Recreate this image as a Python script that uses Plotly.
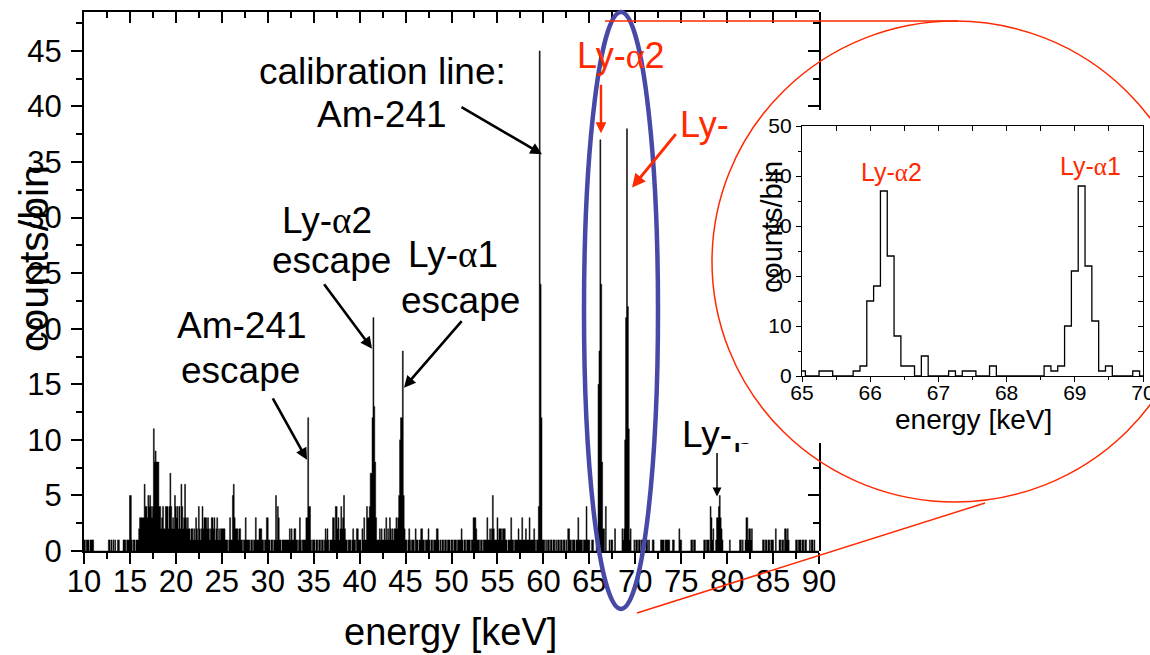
import numpy as np
import plotly.graph_objects as go

W, H = 1150, 655
FONT = "Liberation Sans, Arial, sans-serif"
RED = "#ff2a00"
BLUE = "#4848a6"

# ---------------- data: counts per 0.1 keV bin (bin centres 10.0 ... 89.9) ----------------
bin_start_kev = 10.0
bin_width_kev = 0.1
counts_rows = [
    [1, 1, 0, 1, 1, 1, 0, 1, 1, 1],   # 10
    [1, 0, 0, 0, 0, 0, 0, 0, 0, 0],   # 11
    [0, 0, 0, 0, 0, 0, 0, 1, 1, 0],   # 12
    [1, 0, 1, 0, 1, 0, 0, 1, 1, 0],   # 13
    [0, 0, 0, 1, 1, 1, 0, 1, 1, 1],   # 14
    [5, 5, 1, 0, 1, 1, 0, 1, 1, 1],   # 15
    [2, 3, 3, 3, 3, 3, 6, 4, 4, 3],   # 16
    [5, 4, 5, 4, 3, 4, 11, 8, 9, 8],  # 17
    [8, 8, 4, 4, 2, 3, 4, 2, 2, 4],   # 18
    [4, 4, 2, 4, 7, 4, 2, 3, 2, 5],   # 19
    [4, 3, 4, 2, 4, 2, 6, 4, 2, 3],   # 20
    [6, 3, 2, 3, 2, 2, 1, 2, 2, 1],   # 21
    [2, 1, 3, 2, 1, 4, 2, 1, 2, 4],   # 22
    [2, 3, 3, 3, 2, 3, 2, 1, 2, 3],   # 23
    [3, 2, 3, 1, 2, 3, 1, 2, 1, 2],   # 24
    [2, 2, 2, 2, 1, 1, 1, 0, 1, 3],   # 25
    [1, 1, 5, 6, 3, 2, 2, 2, 1, 2],   # 26
    [2, 1, 1, 0, 1, 1, 3, 1, 1, 1],   # 27
    [1, 0, 1, 1, 0, 1, 1, 3, 1, 1],   # 28
    [1, 2, 2, 2, 1, 1, 0, 1, 1, 3],   # 29
    [3, 1, 1, 0, 1, 1, 0, 1, 1, 5],   # 30
    [1, 4, 3, 1, 1, 0, 1, 1, 1, 1],   # 31
    [1, 1, 1, 1, 2, 1, 2, 1, 1, 2],   # 32
    [2, 1, 1, 0, 1, 3, 1, 0, 1, 1],   # 33
    [1, 1, 3, 3, 12, 4, 4, 1, 0, 1],  # 34
    [1, 1, 0, 1, 1, 0, 1, 1, 0, 1],   # 35
    [1, 0, 1, 2, 1, 2, 1, 0, 1, 1],   # 36
    [1, 3, 3, 1, 4, 4, 2, 3, 1, 2],   # 37
    [4, 2, 3, 5, 2, 1, 1, 0, 1, 1],   # 38
    [1, 0, 1, 2, 1, 1, 0, 2, 2, 1],   # 39
    [1, 1, 0, 2, 1, 3, 1, 1, 4, 3],   # 40
    [3, 4, 7, 7, 12, 21, 13, 8, 3, 1],  # 41
    [1, 1, 2, 1, 2, 1, 1, 2, 1, 3],   # 42
    [1, 2, 1, 3, 2, 1, 2, 1, 2, 2],   # 43
    [3, 2, 3, 5, 10, 12, 12, 18, 5, 2],  # 44
    [1, 1, 0, 1, 2, 1, 0, 1, 1, 1],   # 45
    [0, 2, 1, 1, 0, 1, 1, 2, 2, 1],   # 46
    [1, 0, 1, 1, 1, 2, 1, 0, 1, 1],   # 47
    [0, 1, 1, 1, 2, 2, 1, 0, 1, 0],   # 48
    [1, 1, 0, 1, 1, 0, 1, 1, 1, 0],   # 49
    [1, 1, 0, 1, 1, 1, 0, 1, 1, 1],   # 50
    [1, 2, 1, 0, 1, 1, 0, 1, 1, 1],   # 51
    [1, 0, 1, 1, 3, 3, 3, 2, 1, 1],   # 52
    [1, 0, 1, 1, 0, 1, 1, 1, 1, 3],   # 53
    [1, 1, 2, 1, 2, 5, 2, 1, 1, 1],   # 54
    [3, 1, 2, 2, 2, 1, 2, 2, 2, 1],   # 55
    [1, 0, 1, 1, 1, 3, 1, 1, 0, 1],   # 56
    [1, 1, 1, 2, 1, 1, 1, 3, 1, 1],   # 57
    [1, 2, 1, 1, 1, 3, 1, 1, 1, 1],   # 58
    [2, 1, 0, 1, 1, 4, 45, 24, 12, 1],  # 59
    [1, 1, 0, 1, 0, 1, 1, 0, 1, 1],   # 60
    [0, 1, 1, 0, 1, 0, 1, 1, 0, 1],   # 61
    [1, 0, 1, 1, 0, 1, 0, 2, 2, 1],   # 62
    [1, 0, 1, 1, 1, 0, 1, 1, 3, 1],   # 63
    [1, 1, 1, 0, 1, 1, 1, 4, 1, 1],   # 64
    [1, 0, 0, 1, 1, 0, 0, 0, 1, 2],   # 65
    [15, 18, 37, 24, 8, 2, 2, 0, 4, 0],  # 66
    [0, 0, 1, 0, 1, 1, 0, 0, 2, 0],   # 67
    [0, 0, 0, 0, 0, 0, 2, 1, 2, 10],  # 68
    [21, 38, 22, 11, 1, 2, 0, 0, 0, 1],  # 69
    [0, 1, 1, 0, 1, 1, 0, 1, 1, 0],   # 70
    [0, 0, 1, 1, 0, 1, 0, 0, 0, 1],   # 71
    [1, 0, 0, 0, 0, 0, 0, 0, 1, 1],   # 72
    [1, 1, 0, 1, 1, 1, 1, 1, 0, 0],   # 73
    [0, 1, 1, 0, 0, 0, 0, 0, 2, 1],   # 74
    [1, 0, 0, 0, 0, 0, 0, 0, 0, 0],   # 75
    [0, 1, 1, 0, 1, 1, 0, 0, 0, 0],   # 76
    [0, 0, 0, 0, 0, 1, 1, 0, 1, 1],   # 77
    [1, 0, 4, 3, 1, 2, 0, 0, 1, 3],   # 78
    [3, 4, 5, 3, 2, 1, 0, 0, 0, 0],   # 79
    [0, 0, 0, 1, 0, 0, 0, 0, 0, 0],   # 80
    [0, 0, 0, 0, 1, 1, 0, 1, 0, 0],   # 81
    [1, 3, 3, 1, 2, 2, 1, 2, 0, 0],   # 82
    [0, 0, 0, 0, 0, 0, 0, 0, 0, 1],   # 83
    [1, 0, 1, 1, 0, 1, 1, 0, 1, 1],   # 84
    [1, 0, 0, 2, 0, 0, 0, 1, 1, 0],   # 85
    [1, 1, 0, 2, 2, 1, 2, 1, 0, 0],   # 86
    [0, 0, 0, 0, 0, 1, 1, 0, 1, 1],   # 87
    [1, 0, 1, 1, 0, 1, 1, 0, 0, 0],   # 88
    [1, 0, 1, 1, 0, 1, 0, 0, 0, 0],   # 89
]

main_x_range = [10, 90]
main_y_range = [0, 48.5]
inset_x_range = [65, 70]
inset_y_range = [0, 50]

# ---------------- pixel helpers (figure = 1150 x 655, no margins) ----------------
def fx(px):
    return px / W


def fy(py):
    return (H - py) / H


MAIN_L, MAIN_R, MAIN_T, MAIN_B = 84, 819, 12, 551
INS_L, INS_R, INS_T, INS_B = 802, 1143, 126, 376
Y_PER_COUNT = (MAIN_B - MAIN_T) / (main_y_range[1] - main_y_range[0])

counts = np.array([c for row in counts_rows for c in row], dtype=float)
centres = bin_start_kev + bin_width_kev * np.arange(len(counts))
edges = centres - bin_width_kev / 2
x_step = np.append(edges, edges[-1] + bin_width_kev)
y_step = np.append(counts, counts[-1])

sel = (centres > inset_x_range[0] - 0.06) & (centres < inset_x_range[1] + 0.06)
xi = np.append(edges[sel], edges[sel][-1] + bin_width_kev)
yi = np.append(counts[sel], counts[sel][-1])

fig = go.Figure()
fig.add_trace(go.Scatter(x=x_step, y=y_step, mode="lines",
                         line=dict(shape="hv", color="black", width=0.5),
                         fill="tozeroy", fillcolor="black",
                         xaxis="x", yaxis="y", hoverinfo="skip"))
fig.add_trace(go.Scatter(x=xi, y=yi, mode="lines",
                         line=dict(shape="hv", color="black", width=1.3),
                         xaxis="x2", yaxis="y2", hoverinfo="skip"))
# helper (empty) traces so that the frame axes are drawn
for xa, ya in [("x3", "y"), ("x", "y4"), ("x", "y5"), ("x4", "y2"), ("x2", "y3")]:
    fig.add_trace(go.Scatter(x=[None], y=[None], mode="lines", xaxis=xa, yaxis=ya,
                             hoverinfo="skip"))
# partially hidden greek letter of "Ly-β" (clipped by its own small subplot)
fig.add_trace(go.Scatter(x=[0.03], y=[1.08], mode="text", text=["β"],
                         textposition="middle right", cliponaxis=True,
                         textfont=dict(family=FONT, size=37, color="black"),
                         xaxis="x5", yaxis="y6", hoverinfo="skip"))

tick_font = dict(family=FONT, size=31, color="black")
ins_font = dict(family=FONT, size=21, color="black")


def frame(**kw):
    d = dict(showline=True, linecolor="black", showgrid=False, zeroline=False,
             tickcolor="black", fixedrange=True, automargin=False)
    d.update(kw)
    return d


fig.update_layout(
    template="none",
    width=W, height=H, margin=dict(l=0, r=0, t=0, b=0, pad=0, autoexpand=False),
    paper_bgcolor="white", plot_bgcolor="rgba(0,0,0,0)", showlegend=False,
    font=dict(family=FONT, color="black"),
    xaxis=frame(domain=[fx(MAIN_L), fx(MAIN_R)], range=main_x_range, anchor="y",
                linewidth=2, ticks="outside", ticklen=11, tickwidth=2, dtick=5, tick0=0,
                minor=dict(dtick=2.5, tick0=0, ticks="outside", ticklen=6, tickwidth=2,
                           tickcolor="black", showgrid=False),
                tickfont=tick_font, ticklabelstandoff=-9, ticklabeloverflow="allow"),
    yaxis=frame(domain=[fy(MAIN_B), fy(MAIN_T)], range=main_y_range, anchor="x",
                linewidth=2, ticks="outside", ticklen=11, tickwidth=2, dtick=5, tick0=0,
                minor=dict(dtick=2.5, tick0=0, ticks="outside", ticklen=6, tickwidth=2,
                           tickcolor="black", showgrid=False),
                tickfont=tick_font, ticklabelstandoff=3, ticklabeloverflow="allow"),
    xaxis3=frame(overlaying="x", side="top", anchor="y", range=main_x_range,
                 linewidth=2, ticks="inside", ticklen=11, tickwidth=2, dtick=5, tick0=0,
                 minor=dict(dtick=2.5, tick0=0, ticks="inside", ticklen=6, tickwidth=2,
                            tickcolor="black", showgrid=False),
                 showticklabels=False),
    yaxis4=frame(domain=[fy(MAIN_B), fy(443)], anchor="x", side="right",
                 range=[0, (MAIN_B - 443) / Y_PER_COUNT],
                 linewidth=2, ticks="inside", ticklen=11, tickwidth=2, dtick=5, tick0=0,
                 minor=dict(dtick=2.5, tick0=0, ticks="inside", ticklen=6, tickwidth=2,
                            tickcolor="black", showgrid=False),
                 showticklabels=False),
    yaxis5=frame(domain=[fy(110), fy(MAIN_T)], anchor="x", side="right",
                 range=[(MAIN_B - 110) / Y_PER_COUNT, main_y_range[1]],
                 linewidth=2, ticks="inside", ticklen=11, tickwidth=2, dtick=5, tick0=0,
                 minor=dict(dtick=2.5, tick0=0, ticks="inside", ticklen=6, tickwidth=2,
                            tickcolor="black", showgrid=False),
                 showticklabels=False),
    xaxis2=frame(domain=[fx(INS_L), fx(INS_R)], range=inset_x_range, anchor="y2",
                 linewidth=1.3, ticks="outside", ticklen=5, tickwidth=1.3, dtick=1, tick0=0,
                 minor=dict(dtick=0.5, tick0=0, ticks="outside", ticklen=3, tickwidth=1.3,
                            tickcolor="black", showgrid=False),
                 tickfont=ins_font, ticklabelstandoff=-7, ticklabeloverflow="allow"),
    yaxis2=frame(domain=[fy(INS_B), fy(INS_T)], range=inset_y_range, anchor="x2",
                 linewidth=1.3, ticks="outside", ticklen=5, tickwidth=1.3, dtick=10, tick0=0,
                 minor=dict(dtick=5, tick0=0, ticks="outside", ticklen=3, tickwidth=1.3,
                            tickcolor="black", showgrid=False),
                 tickfont=ins_font, ticklabeloverflow="allow"),
    xaxis4=frame(overlaying="x2", side="top", anchor="y2", range=inset_x_range,
                 linewidth=1.3, ticks="inside", ticklen=5, tickwidth=1.3, dtick=0.5, tick0=0,
                 showticklabels=False),
    yaxis3=frame(overlaying="y2", side="right", anchor="x2", range=inset_y_range,
                 linewidth=1.3, ticks="inside", ticklen=5, tickwidth=1.3, dtick=5, tick0=0,
                 showticklabels=False),
    xaxis5=dict(domain=[fx(731), fx(800)], range=[0, 1], anchor="y6", visible=False,
                fixedrange=True, automargin=False),
    yaxis6=dict(domain=[fy(MAIN_B), fy(443)], range=[0, 1], anchor="x5", visible=False,
                fixedrange=True, automargin=False),
)

# ---------------- text labels ----------------
ALPHA = "<span style=\"font-family:Liberation Serif\">α</span>"
labels = [
    # text, x px, y px (box centre), size, color, xanchor, angle
    ("calibration line:", 382, 71, 37, "black", "center", 0),
    ("Am-241", 382, 115, 37, "black", "center", 0),
    ("Ly-" + ALPHA + "2", 327, 220, 37, "black", "center", 0),
    ("escape", 331, 261, 37, "black", "center", 0),
    ("Ly-" + ALPHA + "1", 453, 254, 37, "black", "center", 0),
    ("escape", 460, 300, 37, "black", "center", 0),
    ("Am-241", 242, 325, 37, "black", "center", 0),
    ("escape", 240, 370, 37, "black", "center", 0),
    ("Ly-" + ALPHA + "2", 621, 56, 36, RED, "center", 0),
    ("Ly-", 678, 125, 36, RED, "left", 0),
    ("Ly-", 680, 434, 37, "black", "left", 0),
    ("Ly-" + ALPHA + "2", 891, 172, 25, RED, "center", 0),
    ("Ly-" + ALPHA + "1", 1090, 166, 25, RED, "center", 0),
    ("energy [keV]", 450, 632, 38, "black", "center", 0),
    ("counts/bin", 34, 259, 41, "black", "center", -90),
    ("energy [keV]", 973, 419, 28, "black", "center", 0),
    ("counts/bin", 772, 227, 29, "black", "center", -90),
]
annotations = []
for text, x, y, size, color, xanchor, ang in labels:
    annotations.append(dict(text=text, x=fx(x), y=fy(y), xref="paper", yref="paper",
                            xanchor=xanchor, yanchor="middle", showarrow=False,
                            textangle=ang, font=dict(family=FONT, size=size, color=color)))

# arrows: head in data coordinates, tail as pixel offset
arrows = [
    (59.85, 35.7, -82, -48, "black", 2.6, 0.9),
    (41.35, 18.2, -49, -66, "black", 2.6, 0.9),
    (44.83, 14.7, 59, -68, "black", 2.6, 0.9),
    (34.27, 8.2, -35, -63, "black", 2.6, 0.9),
    (66.27, 37.6, 0, -50, RED, 2.4, 0.9),
    (69.65, 32.7, 45, -55, RED, 3.0, 0.9),
    (78.9, 4.9, 0, -45, "black", 1.5, 1.2),
]
for hx, hy, ax, ay, color, w, s in arrows:
    annotations.append(dict(text="", x=hx, y=hy, xref="x", yref="y", ax=ax, ay=ay,
                            axref="pixel", ayref="pixel", showarrow=True, arrowhead=2,
                            arrowsize=s, arrowwidth=w, arrowcolor=color,
                            standoff=0, startstandoff=0))
fig.update_layout(annotations=annotations)

# ---------------- zoom decoration shapes ----------------
shapes = [
    dict(type="circle", xref="paper", yref="paper", x0=fx(584), x1=fx(658),
         y0=fy(609), y1=fy(12), line=dict(color=BLUE, width=4.5), layer="above"),
    dict(type="circle", xref="paper", yref="paper", x0=fx(712), x1=fx(1198),
         y0=fy(502), y1=fy(21), line=dict(color=RED, width=1.5), layer="above"),
    dict(type="line", xref="paper", yref="paper", x0=fx(605), y0=fy(21), x1=fx(958),
         y1=fy(21), line=dict(color=RED, width=1.5), layer="above"),
    dict(type="line", xref="paper", yref="paper", x0=fx(637), y0=fy(613), x1=fx(985),
         y1=fy(503), line=dict(color=RED, width=1.5), layer="above"),
]
fig.update_layout(shapes=shapes)

fig.write_html("out.html")
